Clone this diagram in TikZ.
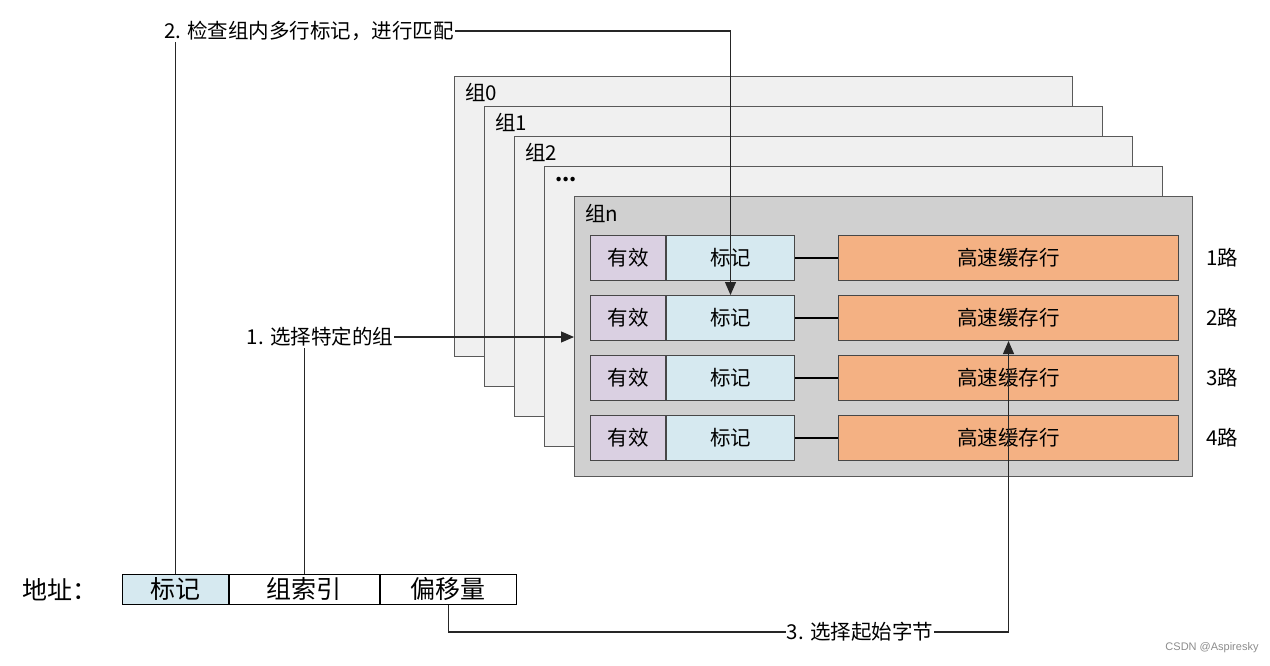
\documentclass[tikz,border=0pt]{standalone}
\usepackage{fontspec}
\setmainfont{Noto Sans CJK SC}
\newfontfamily\wmfont{Liberation Sans}
\usetikzlibrary{arrows.meta,calc}
\definecolor{framegray}{HTML}{595959}
\definecolor{grpfill}{HTML}{F0F0F0}
\definecolor{grpnfill}{HTML}{D0D0D0}
\definecolor{validfill}{HTML}{DAD0E2}
\definecolor{tagfill}{HTML}{D6E9F0}
\definecolor{cachefill}{HTML}{F4B183}
\begin{document}
\begin{tikzpicture}[x=1pt,y=-1pt,
  txt/.style={font=\fontsize{20.5}{24}\selectfont, inner sep=1pt},
  big/.style={font=\fontsize{25}{29}\selectfont},
  grp/.style={draw=framegray, fill=grpfill, line width=1.1pt, minimum width=618, minimum height=280, anchor=north west, inner sep=0},
  cell/.style={draw=framegray!80!black, line width=1pt, minimum height=45, anchor=north west, inner sep=0, txt},
  addrcell/.style={draw=black, line width=0.9pt, minimum height=30, anchor=north west, inner sep=0, big},
  conn/.style={draw=black!85, line width=1.1pt},
  tip/.style={-{Triangle[length=13pt,width=11pt]}},
  link/.style={draw=black, line width=1.6pt}
]
\useasboundingbox (0,0) rectangle (1270,666);

% group frames
\node[grp] (g0) at (454,76) {};
\node[txt, anchor=west] (lg0) at ($(g0.north west)+(10,16)$) {组0};
\node[grp] (g1) at (484,106) {};
\node[txt, anchor=west] (lg1) at ($(g1.north west)+(10,16)$) {组1};
\node[grp] (g2) at (514,136) {};
\node[txt, anchor=west] (lg2) at ($(g2.north west)+(10,16)$) {组2};
\node[grp] (g3) at (544,166) {};
\node[txt, anchor=west] (lg3) at ($(g3.north west)+(10,14)$) {\textbf{...}};
\node[grp, fill=grpnfill] (gn) at (574,196) {};
\node[txt, anchor=west] (lgn) at ($(gn.north west)+(10,17)$) {组n};

% rows
\foreach \i/\yy in {1/235,2/295,3/355,4/415}{
  \node[cell, fill=validfill, minimum width=75] (v\i) at (590,\yy) {有效};
  \node[cell, fill=tagfill, minimum width=128] (t\i) at (v\i.north east) {标记};
  \node[cell, fill=cachefill, minimum width=340] (c\i) at (838,\yy) {高速缓存行};
  \draw[link] (t\i.east) -- (c\i.west);
  \node[txt] (w\i) at (1222,\yy+22.5) {\i{}路};
}

% address
\node[big] (addr) at (60,590) {地址：};
\node[addrcell, fill=tagfill, minimum width=106] (at) at (122,574) {标记};
\node[addrcell, fill=white, minimum width=150] (ai) at (at.north east) {组索引};
\node[addrcell, fill=white, minimum width=136] (ao) at (ai.north east) {偏移量};

% labels
\node[txt, anchor=west] (l2) at (163,31) {2. 检查组内多行标记，进行匹配};
\node[txt] (l1) at (320,337) {1. 选择特定的组};
\node[txt] (l3) at (860,632) {3. 选择起始字节};

% connectors
\draw[conn] (at.north) -- (at.north |- l2.south);
\draw[conn, tip] (l2.east) -| (t2.north);
\draw[conn] (ai.north) -- (ai.north |- l1.south);
\draw[conn, tip] (l1.east) -- (l1.east -| gn.west);
\draw[conn] (ao.south) |- (l3.west);
\draw[conn, tip] (l3.east) -| (c2.south);

% watermark
\node[text=black!45, font=\wmfont\fontsize{11}{13}\selectfont] (wm) at (1212,648) {CSDN @Aspiresky};
\end{tikzpicture}
\end{document}
